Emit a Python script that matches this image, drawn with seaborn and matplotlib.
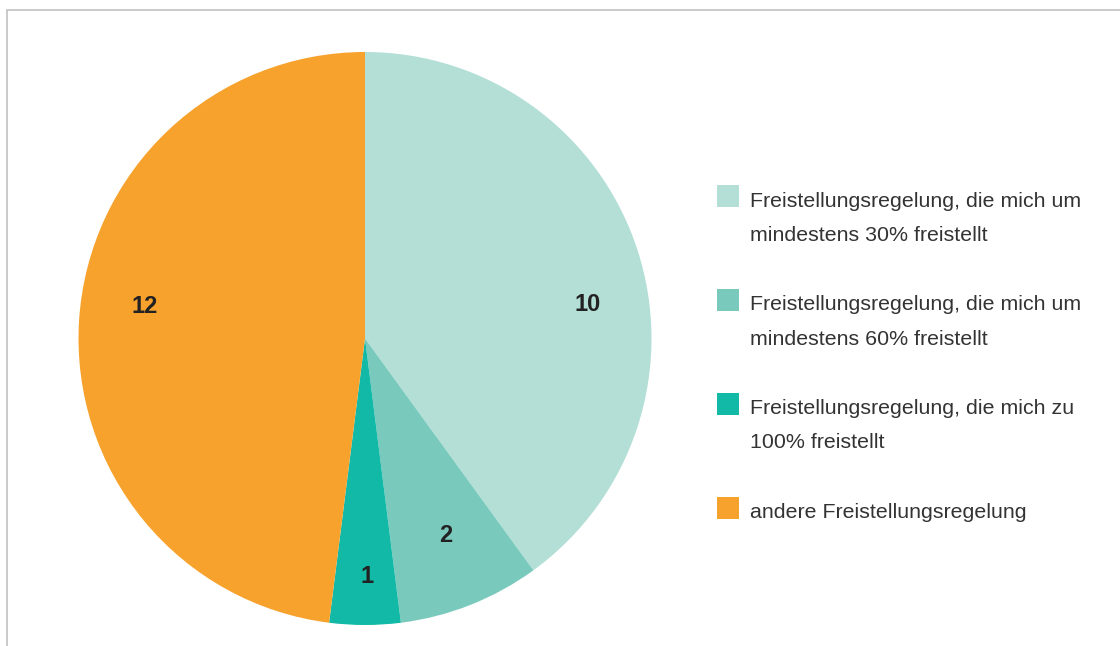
import matplotlib
matplotlib.use("Agg")
import matplotlib.pyplot as plt
from matplotlib.patches import Rectangle
from matplotlib.lines import Line2D
import numpy as np
import seaborn as sns

# ---- data ----
categories = [
    "Freistellungsregelung, die mich um\nmindestens 30% freistellt",
    "Freistellungsregelung, die mich um\nmindestens 60% freistellt",
    "Freistellungsregelung, die mich zu\n100% freistellt",
    "andere Freistellungsregelung",
]
values = [10, 2, 1, 12]
value_labels = ["10", "2", "1", "12"]

# ---- style ----
colors = ["#b3dfd6", "#79cabd", "#12b9a6", "#f7a22d"]
label_r = [0.787, 0.742, 0.831, 0.776]
label_dtheta = [-9.45, 0.8, 0.6, -4.7]

sns.set_theme(style="white")
plt.rcParams["font.family"] = ["Liberation Sans", "DejaVu Sans"]

W, H = 1120, 646
fig = plt.figure(figsize=(W / 100, H / 100), dpi=100)
fig.patch.set_facecolor("white")

def fx(x):
    return x / W

def fy(y):
    return 1 - y / H

# frame lines (top and left)
fig.add_artist(Line2D([fx(7), 1], [fy(9.5), fy(9.5)], color="#c6c6c6", lw=1.3))
fig.add_artist(Line2D([fx(7), fx(7)], [fy(9.5), 0], color="#c6c6c6", lw=1.3))

# pie axes
cx, cy, r = 365, 338.5, 286.5
ax = fig.add_axes([fx(cx - r), fy(cy + r), 2 * r / W, 2 * r / H])
wedges, _ = ax.pie(values, colors=colors, startangle=90, counterclock=False,
                   radius=1, wedgeprops=dict(linewidth=0))
ax.set_xlim(-1, 1)
ax.set_ylim(-1, 1)
ax.axis("off")

for i, w in enumerate(wedges):
    mid = (w.theta1 + w.theta2) / 2 + label_dtheta[i]
    x = label_r[i] * np.cos(np.radians(mid))
    y = label_r[i] * np.sin(np.radians(mid))
    ax.text(x, y, value_labels[i], ha="center", va="center",
            fontsize=17, fontweight="bold", color="#222222")

# manual legend
base0 = 206.7
step = 103.8
line_h = 34
for i, lab in enumerate(categories):
    b = base0 + i * step
    fig.add_artist(Rectangle((fx(717), fy(b + 0.5)), 22 / W, 22 / H,
                             transform=fig.transFigure, facecolor=colors[i],
                             edgecolor="none"))
    for k, line in enumerate(lab.split("\n")):
        fig.text(fx(750), fy(b + k * line_h), line, ha="left", va="baseline",
                 fontsize=15.4, color="#333333")

fig.savefig("out.png", dpi=100, facecolor="white")
